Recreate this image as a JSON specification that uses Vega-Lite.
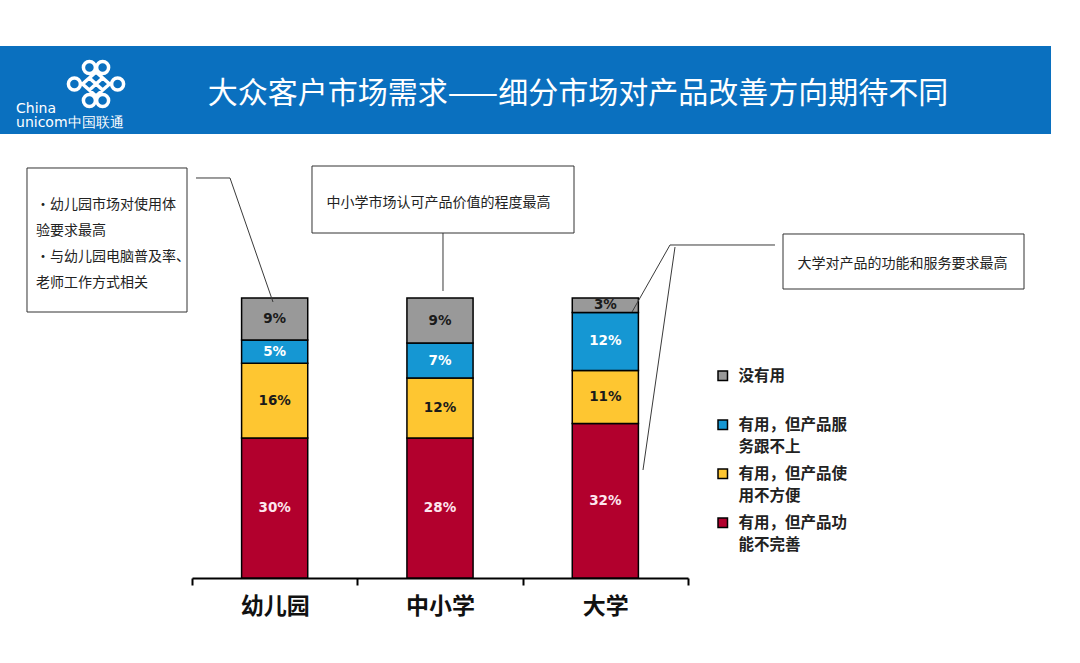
{
  "$schema": "https://vega.github.io/schema/vega-lite/v6.json",
  "width": 496,
  "height": 280,
  "autosize": {"type": "none"},
  "padding": {"left": 192, "top": 298, "right": 392, "bottom": 85},
  "background": "white",
  "config": {
    "view": {"stroke": null},
    "style": {"guide-label": {"lineHeight": 22}}
  },
  "resolve": {"scale": {"x": "independent"}},
  "layer": [
    {
      "data": {"values": [{"x0": -1.1613, "x1": 5.1956, "y0": 1.9, "y1": 1.5857}]},
      "mark": {"type": "rect", "fill": "#0A70BF", "clip": false},
      "encoding": {
        "x": {"field": "x0", "type": "quantitative", "scale": {"domain": [0, 3], "nice": false, "zero": false}, "axis": null},
        "x2": {"field": "x1"},
        "y": {"field": "y0", "type": "quantitative", "scale": {"domain": [0, 1], "nice": false}, "axis": null},
        "y2": {"field": "y1"}
      }
    },
    {
      "data": {"values": [{"ax": -0.5806, "ay": 1.7643}]},
      "mark": {"type": "point", "filled": false, "stroke": "white", "strokeWidth": 3.5, "opacity": 1, "size": 3600, "clip": false,
        "shape": "M-0.42,-0.55a0.2,0.2 0 1,0 0.4,0a0.2,0.2 0 1,0 -0.4,0M0.02,-0.55a0.2,0.2 0 1,0 0.4,0a0.2,0.2 0 1,0 -0.4,0M-0.92,0a0.2,0.2 0 1,0 0.4,0a0.2,0.2 0 1,0 -0.4,0M0.52,0a0.2,0.2 0 1,0 0.4,0a0.2,0.2 0 1,0 -0.4,0M-0.42,0.55a0.2,0.2 0 1,0 0.4,0a0.2,0.2 0 1,0 -0.4,0M0.02,0.55a0.2,0.2 0 1,0 0.4,0a0.2,0.2 0 1,0 -0.4,0M0,-0.4L0.45,0L0,0.4L-0.45,0ZM-0.22,-0.2L0.22,0.2M0.22,-0.2L-0.22,0.2"},
      "encoding": {
        "x": {"field": "ax", "type": "quantitative", "scale": {"domain": [0, 3], "nice": false, "zero": false}, "axis": null},
        "y": {"field": "ay", "type": "quantitative", "scale": {"domain": [0, 1], "nice": false}, "axis": null}
      }
    },
    {
      "data": {"values": [
        {"ax": -1.0645, "ay": 1.675, "t": "China"},
        {"ax": -1.0645, "ay": 1.625, "t": "unicom"},
        {"ax": -0.7505, "ay": 1.625, "t": "中国联通"}
      ]},
      "mark": {"type": "text", "align": "left", "baseline": "middle", "color": "white", "font": "DejaVu Sans", "fontSize": 14, "clip": false},
      "encoding": {
        "x": {"field": "ax", "type": "quantitative", "scale": {"domain": [0, 3], "nice": false, "zero": false}, "axis": null},
        "y": {"field": "ay", "type": "quantitative", "scale": {"domain": [0, 1], "nice": false}, "axis": null},
        "text": {"field": "t"}
      }
    },
    {
      "data": {"values": [{"ax": 2.3347, "ay": 1.7286, "t": "大众客户市场需求——细分市场对产品改善方向期待不同"}]},
      "mark": {"type": "text", "align": "center", "baseline": "middle", "color": "white", "font": "Noto Sans CJK SC", "fontSize": 30, "clip": false},
      "encoding": {
        "x": {"field": "ax", "type": "quantitative", "scale": {"domain": [0, 3], "nice": false, "zero": false}, "axis": null},
        "y": {"field": "ay", "type": "quantitative", "scale": {"domain": [0, 1], "nice": false}, "axis": null},
        "text": {"field": "t"}
      }
    },
    {
      "data": {"values": [
        {"school": "幼儿园", "cat": "有用，但产品功能不完善", "rank": 1, "v": 0.30},
        {"school": "幼儿园", "cat": "有用，但产品使用不方便", "rank": 2, "v": 0.16},
        {"school": "幼儿园", "cat": "有用，但产品服务跟不上", "rank": 3, "v": 0.05},
        {"school": "幼儿园", "cat": "没有用", "rank": 4, "v": 0.09},
        {"school": "中小学", "cat": "有用，但产品功能不完善", "rank": 1, "v": 0.28},
        {"school": "中小学", "cat": "有用，但产品使用不方便", "rank": 2, "v": 0.12},
        {"school": "中小学", "cat": "有用，但产品服务跟不上", "rank": 3, "v": 0.07},
        {"school": "中小学", "cat": "没有用", "rank": 4, "v": 0.09},
        {"school": "大学", "cat": "有用，但产品功能不完善", "rank": 1, "v": 0.32},
        {"school": "大学", "cat": "有用，但产品使用不方便", "rank": 2, "v": 0.11},
        {"school": "大学", "cat": "有用，但产品服务跟不上", "rank": 3, "v": 0.12},
        {"school": "大学", "cat": "没有用", "rank": 4, "v": 0.03}
      ]},
      "transform": [
        {"stack": "v", "groupby": ["school"], "sort": [{"field": "rank", "order": "ascending"}], "offset": "normalize", "as": ["s0", "s1"]},
        {"calculate": "(datum.s0 + datum.s1) / 2", "as": "mid"}
      ],
      "encoding": {
        "x": {
          "field": "school", "type": "nominal", "sort": ["幼儿园", "中小学", "大学"],
          "scale": {"paddingInner": 0, "paddingOuter": 0},
          "axis": {
            "title": null, "labelAngle": 0, "domainColor": "#000", "domainWidth": 2,
            "tickColor": "#000", "tickWidth": 2, "tickSize": 7, "tickBand": "extent",
            "labelFont": "Noto Sans CJK SC", "labelFontSize": 23, "labelFontWeight": "bold",
            "labelColor": "#111", "labelPadding": 10, "labelBaseline": "top"
          }
        }
      },
      "layer": [
        {
          "mark": {"type": "bar", "stroke": "#000", "strokeWidth": 1.5, "width": {"band": 0.4}},
          "encoding": {
            "y": {"field": "s1", "type": "quantitative", "scale": {"domain": [0, 1], "nice": false}, "axis": null},
            "y2": {"field": "s0"},
            "color": {
              "field": "cat", "type": "nominal",
              "scale": {
                "domain": ["没有用", "有用，但产品服务跟不上", "有用，但产品使用不方便", "有用，但产品功能不完善"],
                "range": ["#999999", "#1597D3", "#FEC631", "#B2002D"]
              },
              "legend": {
                "title": null, "orient": "none", "legendX": 523, "legendY": 70,
                "symbolType": "square", "symbolSize": 90, "symbolStrokeColor": "#000", "symbolStrokeWidth": 1.5,
                "labelFont": "Noto Sans CJK SC", "labelFontSize": 15.5, "labelFontWeight": "bold", "labelColor": "#222",
                "labelOffset": 8, "rowPadding": 10, "padding": 0, "labelLimit": 300,
                "labelExpr": "datum.label == '没有用' ? ['没有用', ''] : [substring(datum.label, 0, 7), substring(datum.label, 7)]"
              }
            }
          }
        },
        {
          "mark": {"type": "text", "font": "DejaVu Sans", "fontWeight": "bold", "fontSize": 13.5, "baseline": "middle", "align": "center"},
          "encoding": {
            "y": {"field": "mid", "type": "quantitative", "scale": {"domain": [0, 1], "nice": false}, "axis": null},
            "text": {"field": "v", "type": "quantitative", "format": ".0%"},
            "color": {
              "condition": [
                {"test": "datum.cat == '有用，但产品服务跟不上'", "value": "#ffffff"},
                {"test": "datum.cat == '有用，但产品功能不完善'", "value": "#fde6ee"}
              ],
              "value": "#1a1a1a"
            }
          }
        }
      ]
    },
    {
      "data": {"values": [
        {"xa": 0.0242, "ya": 1.4286, "xb": 0.2298, "yb": 1.4286},
        {"xa": 0.2298, "ya": 1.4286, "xb": 0.4899, "yb": 0.9857},
        {"xa": 1.5181, "ya": 1.2321, "xb": 1.5181, "yb": 1.025},
        {"xa": 2.8911, "ya": 1.1893, "xb": 3.5262, "yb": 1.1893},
        {"xa": 2.8911, "ya": 1.1893, "xb": 2.6613, "yb": 0.95},
        {"xa": 2.9214, "ya": 1.1821, "xb": 2.7278, "yb": 0.3857}
      ]},
      "mark": {"type": "rule", "color": "#3a3a3a", "strokeWidth": 1, "clip": false},
      "encoding": {
        "x": {"field": "xa", "type": "quantitative", "scale": {"domain": [0, 3], "nice": false, "zero": false}, "axis": null},
        "x2": {"field": "xb"},
        "y": {"field": "ya", "type": "quantitative", "scale": {"domain": [0, 1], "nice": false}, "axis": null},
        "y2": {"field": "yb"}
      }
    },
    {
      "data": {"values": [
        {"x0": -0.998, "x1": -0.0302, "y0": 1.4643, "y1": 0.95},
        {"x0": 0.7258, "x1": 2.3105, "y0": 1.4714, "y1": 1.2321},
        {"x0": 3.5746, "x1": 5.0323, "y0": 1.2286, "y1": 1.0321}
      ]},
      "mark": {"type": "rect", "fill": "white", "stroke": "#333333", "strokeWidth": 1, "clip": false},
      "encoding": {
        "x": {"field": "x0", "type": "quantitative", "scale": {"domain": [0, 3], "nice": false, "zero": false}, "axis": null},
        "x2": {"field": "x1"},
        "y": {"field": "y0", "type": "quantitative", "scale": {"domain": [0, 1], "nice": false}, "axis": null},
        "y2": {"field": "y1"}
      }
    },
    {
      "data": {"values": [
        {"ax": -0.9435, "ay": 1.3321, "t": "•幼儿园市场对使用体"},
        {"ax": -0.9435, "ay": 1.2393, "t": "验要求最高"},
        {"ax": -0.9435, "ay": 1.1464, "t": "•与幼儿园电脑普及率、"},
        {"ax": -0.9435, "ay": 1.0536, "t": "老师工作方式相关"}
      ]},
      "mark": {"type": "text", "align": "left", "baseline": "middle", "color": "#222", "font": "Noto Sans CJK SC", "fontSize": 14, "clip": false},
      "encoding": {
        "x": {"field": "ax", "type": "quantitative", "scale": {"domain": [0, 3], "nice": false, "zero": false}, "axis": null},
        "y": {"field": "ay", "type": "quantitative", "scale": {"domain": [0, 1], "nice": false}, "axis": null},
        "text": {"field": "t"}
      }
    },
    {
      "data": {"values": [
        {"ax": 1.4909, "ay": 1.3393, "t": "中小学市场认可产品价值的程度最高"},
        {"ax": 4.2974, "ay": 1.1214, "t": "大学对产品的功能和服务要求最高"}
      ]},
      "mark": {"type": "text", "align": "center", "baseline": "middle", "color": "#222", "font": "Noto Sans CJK SC", "fontSize": 14, "clip": false},
      "encoding": {
        "x": {"field": "ax", "type": "quantitative", "scale": {"domain": [0, 3], "nice": false, "zero": false}, "axis": null},
        "y": {"field": "ay", "type": "quantitative", "scale": {"domain": [0, 1], "nice": false}, "axis": null},
        "text": {"field": "t"}
      }
    }
  ]
}
